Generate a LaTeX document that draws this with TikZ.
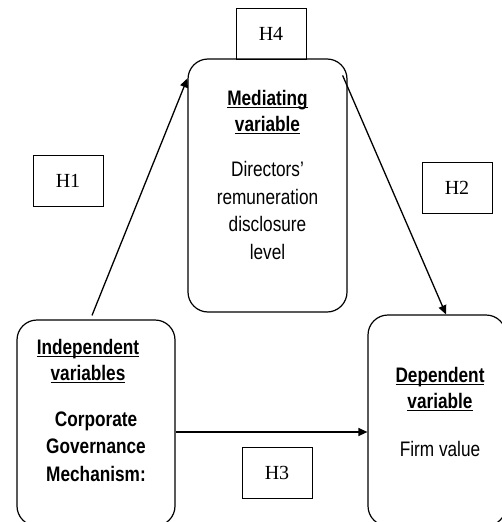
\documentclass[tikz,border=0pt]{standalone}
\usepackage{fontspec}
\setmainfont{Liberation Serif}
\newfontfamily\narrowsans[FakeStretch=0.82]{Liberation Sans}
\usetikzlibrary{arrows.meta,calc,positioning}

% underline that ignores descenders
\newcommand{\uhead}[1]{\underline{\raisebox{0pt}[\height][0pt]{#1}}}

\begin{document}
\begin{tikzpicture}[x=1pt, y=-1pt, >={Triangle[length=9pt,width=8pt]},
  varbox/.style={draw, rounded corners=20pt, line width=1.2pt, inner sep=0pt},
  hbox/.style={draw, line width=1pt, minimum width=70pt, minimum height=51pt, inner sep=0pt, font=\fontsize{20}{24}\selectfont},
  headtext/.style={anchor=north, align=center, inner sep=0pt, font=\narrowsans\fontsize{21}{26}\selectfont\bfseries},
  bodytext/.style={anchor=north, align=center, inner sep=0pt, font=\narrowsans\fontsize{21}{27.5}\selectfont},
  boldbody/.style={bodytext, font=\narrowsans\fontsize{21}{27.5}\selectfont\bfseries},
  link/.style={->, line width=1.3pt}]
  \useasboundingbox (0,0) rectangle (502,522);

  % the three variable boxes
  \node[varbox, minimum width=159pt, minimum height=253pt] (med) at (267.5,185.5) {};
  \node[varbox, minimum width=158pt, minimum height=206pt] (indep) at (96,423) {};
  \node[varbox, minimum width=138pt, minimum height=211pt] (dep) at (437,420.5) {};

  \node[headtext] (medhead) at ($(med.north)+(0,32)$) {\uhead{Mediating}\\\uhead{variable}};
  \node[bodytext] (medbody) at ($(med.north)+(0,103)$) {Directors’\\remuneration\\disclosure\\level};

  \node[headtext] (indephead) at ($(indep.north)+(-8,20)$) {\uhead{Independent}\\\uhead{variables}};
  \node[boldbody] (indepbody) at ($(indep.north)+(0,92)$) {Corporate\\Governance\\Mechanism:};

  \node[headtext] (dephead) at ($(dep.north)+(3,53)$) {\uhead{Dependent}\\\uhead{variable}};
  \node[bodytext] (depbody) at ($(dep.north)+(3,127)$) {Firm value};

  % hypotheses
  \node[hbox] (h4) at (271,33.5) {H4};
  \node[hbox] (h1) at (68,181) {H1};
  \node[hbox] (h2) at (457,187.5) {H2};
  \node[hbox] (h3) at (277,472.5) {H3};

  \draw[link] ($(indep.north)+(-4,-4)$) -- ($(med.north west)+(0,20)$);
  \draw[link] ($(med.north east)+(-5,17)$) -- ($(dep.north)+(9,0)$);
  \draw[link] (indep.east |- 0,432) -- (dep.west |- 0,432);
\end{tikzpicture}
\end{document}
